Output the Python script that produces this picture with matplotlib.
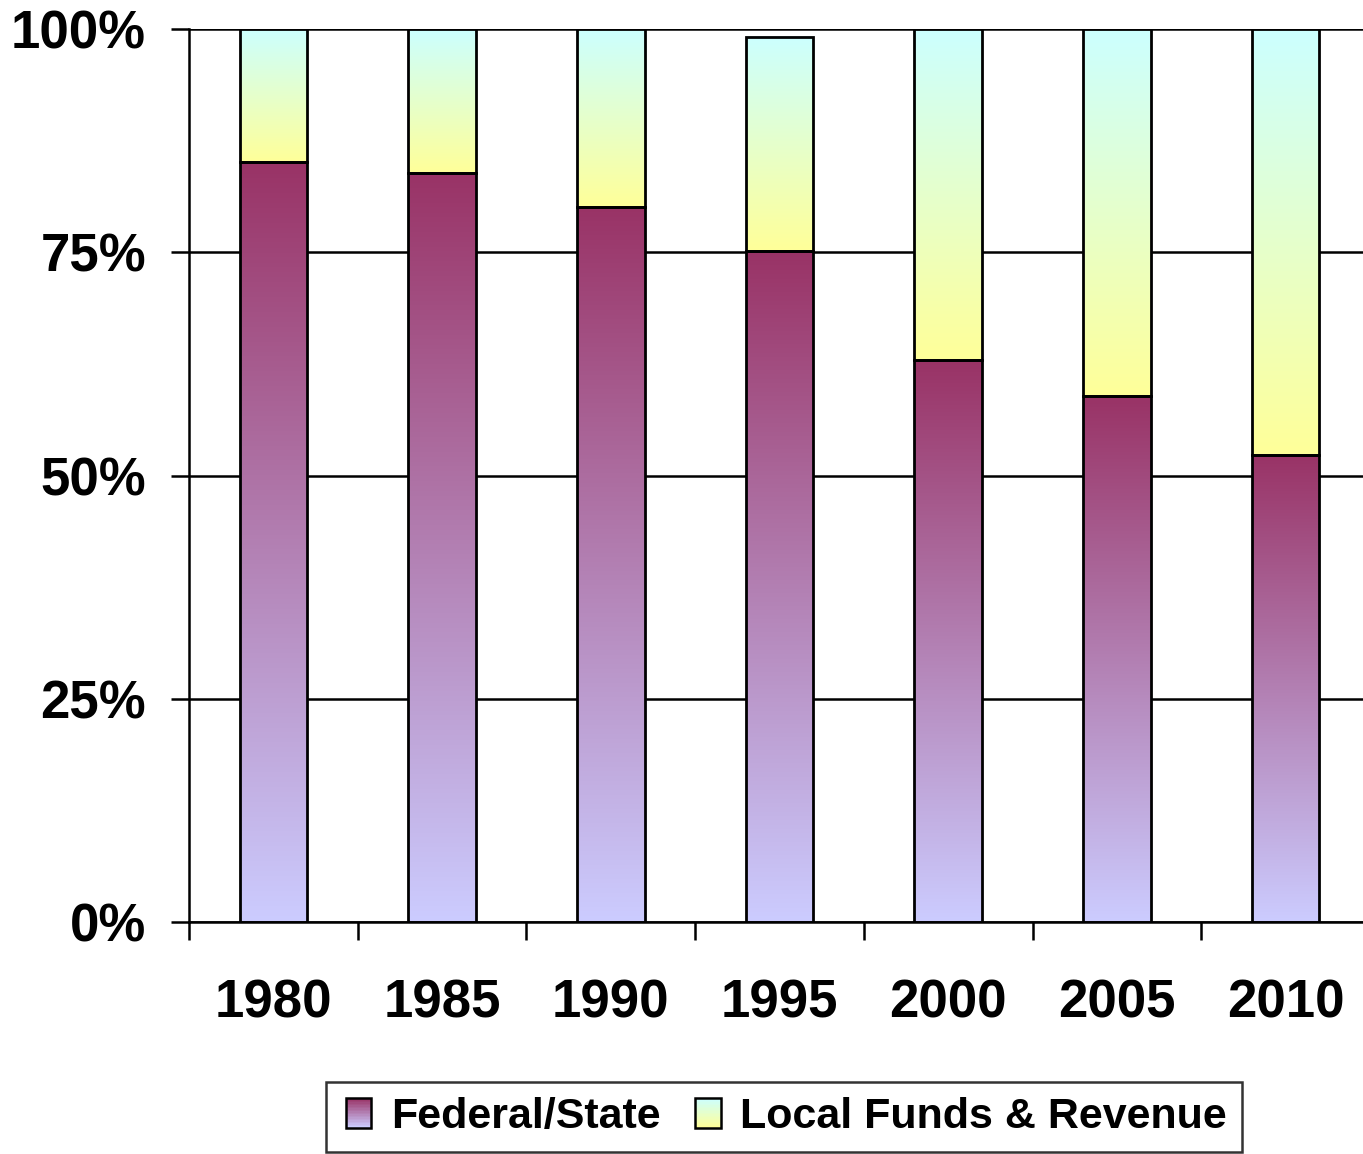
import numpy as np
import matplotlib.pyplot as plt
from matplotlib.colors import LinearSegmentedColormap
from matplotlib.patches import Rectangle
from matplotlib.legend_handler import HandlerBase

plt.rcParams['font.family'] = ['Liberation Sans', 'DejaVu Sans']
plt.rcParams['font.weight'] = 'bold'

# Data (percent share)
years = ["1980", "1985", "1990", "1995", "2000", "2005", "2010"]
federal_state = [85.1, 83.9, 80.1, 75.1, 62.9, 58.9, 52.3]
totals = [100, 100, 100, 99.1, 100, 100, 100]
local_funds = [t - f for t, f in zip(totals, federal_state)]

# gradient colours: bottom -> top
fed_colors = ["#CCCCFF", "#993366"]
loc_colors = ["#FFFF99", "#CCFFFF"]
fed_cmap = LinearSegmentedColormap.from_list("fed", fed_colors)
loc_cmap = LinearSegmentedColormap.from_list("loc", loc_colors)

W, H = 1363, 1154
fig = plt.figure(figsize=(W / 100, H / 100), dpi=100)
ax = fig.add_axes([189 / W, 1 - 922 / H, 1181 / W, 893 / H])

bar_w = 0.40
grad = np.linspace(0, 1, 256).reshape(-1, 1)
x = np.arange(len(years))

for i in range(len(years)):
    x0 = x[i] - bar_w / 2
    x1 = x[i] + bar_w / 2
    # federal/state segment
    ax.imshow(grad, cmap=fed_cmap, origin="lower", aspect="auto",
              extent=(x0, x1, 0, federal_state[i]), zorder=2)
    # local funds segment
    ax.imshow(grad, cmap=loc_cmap, origin="lower", aspect="auto",
              extent=(x0, x1, federal_state[i], federal_state[i] + local_funds[i]), zorder=2)

# outlines on top of the gradients
ax.bar(x, federal_state, width=bar_w, facecolor="none", edgecolor="black", linewidth=2.0, zorder=3)
ax.bar(x, local_funds, width=bar_w, bottom=federal_state, facecolor="none",
       edgecolor="black", linewidth=2.0, zorder=3)

ax.set_xlim(-0.5, len(years) - 0.5)
ax.set_ylim(0, 100)

ax.set_yticks([0, 25, 50, 75, 100])
ax.set_yticklabels(["0%", "25%", "50%", "75%", "100%"], fontsize=38, fontweight="bold")
ax.tick_params(axis="y", length=13, width=1.8, direction="out", pad=18)
ax.yaxis.grid(True, color="black", linewidth=1.8, zorder=1)
ax.set_axisbelow(True)

ax.set_xticks(x)
ax.set_xticklabels(years, fontsize=38, fontweight="bold")
ax.set_xticks(np.arange(len(years)) - 0.5, minor=True)
ax.tick_params(axis="x", which="major", length=0, pad=41)
ax.tick_params(axis="x", which="minor", length=13, width=1.8, direction="out")

for side in ["top", "right"]:
    ax.spines[side].set_visible(False)
for side in ["left", "bottom"]:
    ax.spines[side].set_linewidth(1.8)


class GradientHandler(HandlerBase):
    def __init__(self, colors):
        super().__init__()
        self.cmap = LinearSegmentedColormap.from_list("h", colors)

    def create_artists(self, legend, orig_handle, xdescent, ydescent, width, height, fontsize, trans):
        artists = []
        n = 20
        side = height * 1.0
        x0 = xdescent * -1 + (width - side * 0.85) / 2
        for k in range(n):
            r = Rectangle((x0, -ydescent + side * k / n), side * 0.85, side / n,
                          facecolor=self.cmap(k / (n - 1)), edgecolor="none", transform=trans)
            artists.append(r)
        artists.append(Rectangle((x0, -ydescent), side * 0.85, side, facecolor="none",
                                 edgecolor="black", linewidth=1.8, transform=trans))
        return artists


h_fed = Rectangle((0, 0), 1, 1)
h_loc = Rectangle((0, 0), 1, 1)
leg = fig.legend([h_fed, h_loc], ["Federal/State", "Local Funds & Revenue"],
                 handler_map={h_fed: GradientHandler(fed_colors), h_loc: GradientHandler(loc_colors)},
                 loc="center", bbox_to_anchor=(784 / W, 1 - 1117 / H), ncol=2,
                 prop={"size": 31, "weight": "bold"}, frameon=True, fancybox=False,
                 handlelength=0.8, handletextpad=0.35, columnspacing=0.7,
                 borderpad=0.35, edgecolor="black")
leg.get_frame().set_linewidth(1.8)

fig.savefig("out.png", dpi=100)
